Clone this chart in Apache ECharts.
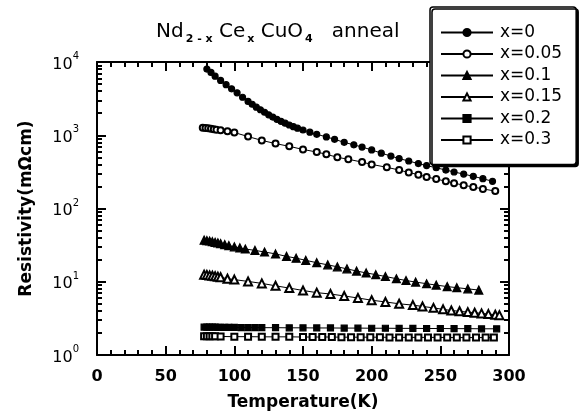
<!DOCTYPE html>
<html>
<head>
<meta charset="utf-8">
<script src="https://cdn.jsdelivr.net/npm/echarts@6/dist/echarts.min.js"></script>
<style>
  html, body { margin: 0; padding: 0; background: #fff; }
  #chart { width: 580px; height: 416px; }
</style>
</head>
<body>
<div id="chart"></div>
<script>
// Nd(2-x)Ce(x)CuO4 annealed: resistivity vs temperature
const seriesNames = ['x=0', 'x=0.05', 'x=0.1', 'x=0.15', 'x=0.2', 'x=0.3'];

const tempX0 = [80, 83, 86, 90, 94, 98, 102, 106, 110, 113, 116, 119, 122, 125, 128, 131, 134, 137, 140, 143, 146, 150, 155, 160, 167, 173, 180, 187, 193, 200, 207, 214, 220, 227, 234, 240, 247, 254, 260, 267, 274, 281, 288];
const rhoX0 = [8000, 7200, 6400, 5600, 4900, 4300, 3800, 3300, 2900, 2650, 2420, 2230, 2060, 1900, 1770, 1650, 1550, 1460, 1380, 1310, 1250, 1180, 1100, 1030, 950, 880, 800, 740, 690, 630, 570, 520, 480, 445, 410, 385, 360, 335, 315, 295, 275, 255, 235];

const tempX005 = [77, 79, 81, 83, 85, 87, 90, 95, 100, 110, 120, 130, 140, 150, 160, 167, 175, 183, 193, 200, 211, 220, 227, 234, 240, 247, 254, 260, 267, 274, 281, 290];
const rhoX005 = [1270, 1260, 1250, 1230, 1210, 1190, 1170, 1130, 1090, 960, 850, 770, 705, 640, 590, 550, 500, 470, 430, 400, 365, 335, 310, 290, 270, 252, 236, 222, 208, 196, 185, 173];

const tempX01 = [78, 80, 82, 84, 86, 88, 90, 93, 96, 100, 104, 108, 115, 122, 130, 138, 145, 152, 160, 168, 175, 182, 189, 196, 203, 210, 218, 225, 232, 240, 247, 255, 262, 270, 278];
const rhoX01 = [37, 36.5, 36, 35.2, 34.5, 34, 33.2, 32.2, 31.2, 30, 29, 28, 26.8, 25.5, 24, 22.2, 21, 19.6, 18.2, 17, 16, 15, 14, 13.2, 12.5, 11.8, 11, 10.4, 9.9, 9.4, 9, 8.6, 8.3, 8, 7.7];

const tempX015 = [78, 80, 82, 84, 86, 88, 90, 95, 100, 110, 120, 130, 140, 150, 160, 170, 180, 190, 200, 210, 220, 230, 237, 245, 252, 258, 264, 270, 275, 280, 285, 290, 293];
const rhoX015 = [12.5, 12.4, 12.2, 12.1, 11.9, 11.7, 11.5, 11, 10.7, 10.1, 9.5, 8.8, 8.2, 7.6, 7.1, 6.8, 6.4, 6.0, 5.6, 5.3, 5.0, 4.8, 4.6, 4.4, 4.2, 4.05, 3.95, 3.85, 3.78, 3.7, 3.62, 3.55, 3.5];

const tempX02 = [78, 80, 82, 84, 86, 88, 90, 93, 96, 100, 105, 110, 115, 120, 130, 140, 150, 160, 170, 180, 190, 200, 210, 220, 230, 240, 250, 260, 270, 280, 291];
const rhoX02 = [2.4, 2.4, 2.4, 2.4, 2.4, 2.39, 2.39, 2.38, 2.38, 2.38, 2.37, 2.37, 2.37, 2.36, 2.36, 2.35, 2.35, 2.34, 2.34, 2.33, 2.33, 2.32, 2.32, 2.31, 2.31, 2.3, 2.3, 2.29, 2.29, 2.28, 2.28];

const tempX03 = [78, 80, 82, 84, 86, 90, 100, 110, 120, 130, 140, 150, 157, 164, 171, 178, 185, 192, 199, 206, 213, 220, 227, 234, 241, 248, 255, 262, 269, 276, 283, 289];
const rhoX03 = [1.8, 1.8, 1.8, 1.8, 1.8, 1.79, 1.78, 1.78, 1.77, 1.77, 1.77, 1.76, 1.76, 1.76, 1.76, 1.75, 1.75, 1.75, 1.75, 1.75, 1.74, 1.74, 1.74, 1.74, 1.74, 1.74, 1.73, 1.73, 1.73, 1.73, 1.73, 1.73];

const seriesTemps = [tempX0, tempX005, tempX01, tempX015, tempX02, tempX03];
const seriesRhos = [rhoX0, rhoX005, rhoX01, rhoX015, rhoX02, rhoX03];
const seriesSymbols = ['circle', 'emptyCircle', 'triangle', 'emptyTriangle', 'rect', 'emptyRect'];

const majorRhoTicks = [1, 10, 100, 1000, 10000];
const minorRhoTicks = [];
[1, 10, 100, 1000].forEach(d => { for (let k = 2; k <= 9; k++) minorRhoTicks.push(k * d); });

const FONT = 'DejaVu Sans';
const chart = echarts.init(document.getElementById('chart'));

const tickStyle = { color: '#000', width: 2 };
const logAxis = (pos, major) => ({
  type: 'log',
  logBase: 10,
  min: 1,
  max: 10000,
  position: pos,
  axisLine: { show: major, onZero: false, lineStyle: { color: '#000', width: 2 } },
  axisTick: {
    show: true,
    inside: true,
    length: major ? 9 : 5,
    customValues: major ? majorRhoTicks : minorRhoTicks,
    lineStyle: tickStyle
  },
  axisLabel: { show: false },
  splitLine: { show: false }
});

const leftMajor = logAxis('left', true);
leftMajor.axisLabel = {
  show: true,
  margin: 18,
  customValues: majorRhoTicks,
  formatter: v => '{b|10}{s|' + Math.round(Math.log10(v)) + '}',
  rich: {
    b: { fontFamily: FONT, fontSize: 16, color: '#000', lineHeight: 21, verticalAlign: 'bottom' },
    s: { fontFamily: FONT, fontSize: 10, color: '#000', lineHeight: 10, verticalAlign: 'top' }
  }
};
leftMajor.name = 'Resistivity(mΩcm)';
leftMajor.nameLocation = 'middle';
leftMajor.nameGap = 62;
leftMajor.nameTextStyle = { fontFamily: FONT, fontWeight: 'bold', fontSize: 17, color: '#000' };

const tempAxis = (pos, labels) => ({
  type: 'value',
  min: 0,
  max: 300,
  interval: 50,
  position: pos,
  axisLine: { show: true, onZero: false, lineStyle: { color: '#000', width: 2 } },
  axisTick: { show: true, inside: true, length: 9, lineStyle: tickStyle },
  minorTick: { show: true, splitNumber: 5, length: 5, lineStyle: tickStyle },
  axisLabel: labels
    ? { show: true, margin: 14, fontFamily: FONT, fontWeight: 'bold', fontSize: 16, color: '#000' }
    : { show: false },
  splitLine: { show: false }
});

const bottomAxis = tempAxis('bottom', true);
bottomAxis.name = 'Temperature(K)';
bottomAxis.nameLocation = 'middle';
bottomAxis.nameGap = 39;
bottomAxis.nameTextStyle = { fontFamily: FONT, fontWeight: 'bold', fontSize: 17, color: '#000' };

const option = {
  animation: false,
  backgroundColor: '#fff',
  title: {
    left: 151,
    top: 17,
    text: '{m|Nd}{s|2 - x}{m| Ce}{s|x}{m| CuO}{s|4}{m|   anneal}',
    textStyle: {
      rich: {
        m: { fontFamily: FONT, fontSize: 20, fontWeight: 'normal', color: '#000', lineHeight: 23, verticalAlign: 'top' },
        s: { fontFamily: FONT, fontSize: 11, fontWeight: 'bold', color: '#000', lineHeight: 12, padding: [22, 0, 0, 2], verticalAlign: 'bottom' }
      }
    }
  },
  legend: {
    orient: 'vertical',
    left: 430,
    top: 7,
    width: 146,
    padding: [17, 14, 16, 10],
    itemWidth: 52,
    itemHeight: 9,
    itemGap: 4.5,
    backgroundColor: '#fff',
    borderColor: '#000',
    borderWidth: 1.5,
    borderRadius: 3,
    shadowColor: '#000',
    shadowOffsetX: 2,
    shadowOffsetY: 2,
    shadowBlur: 0,
    textStyle: { fontFamily: FONT, fontSize: 17, color: '#000', padding: [0, 0, 0, 2] },
    data: seriesNames
  },
  grid: { left: 97, right: 71, top: 62, bottom: 59 },
  xAxis: [bottomAxis, tempAxis('top', false)],
  yAxis: [leftMajor, logAxis('left', false), logAxis('right', true), logAxis('right', false)],
  series: seriesNames.map((name, i) => ({
    name,
    type: 'line',
    xAxisIndex: 0,
    yAxisIndex: 0,
    data: seriesTemps[i].map((t, j) => [t, seriesRhos[i][j]]),
    symbol: seriesSymbols[i],
    symbolSize: i === 2 || i === 3 ? 8 : 6,
    showSymbol: true,
    itemStyle: { color: '#000', borderColor: '#000', borderWidth: 1.2 },
    lineStyle: { color: '#000', width: 1 },
    emphasis: { disabled: true }
  }))
};

chart.setOption(option);
</script>
</body>
</html>
